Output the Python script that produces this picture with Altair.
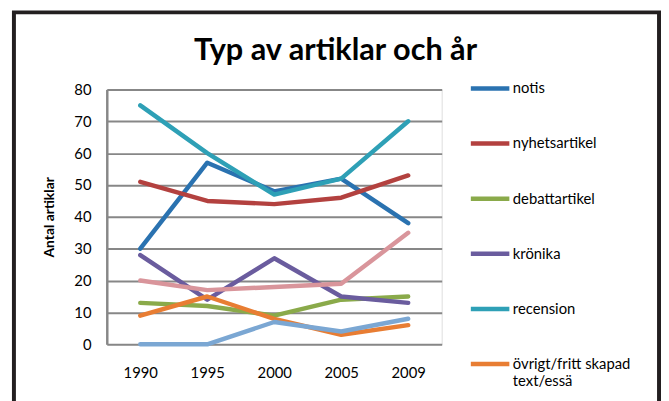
import altair as alt
import pandas as pd

years = ["1990", "1995", "2000", "2005", "2009"]
series = ["notis", "nyhetsartikel", "debattartikel", "krönika", "recension",
          "övrigt/fritt skapad text/essä", "serie 7", "serie 8"]
notis = [30, 57, 48, 52, 38]
nyhetsartikel = [51, 45, 44, 46, 53]
debattartikel = [13, 12, 9, 14, 15]
kronika = [28, 14, 27, 15, 13]
recension = [75, 60, 47, 52, 70]
ovrigt = [9, 15, 8, 3, 6]
serie7 = [20, 17, 18, 19, 35]
serie8 = [0, 0, 7, 4, 8]
colors = ["#2a72b0", "#b3413f", "#8aaa4a", "#6a5c9e", "#2ea0b6", "#e87d33", "#d9959b", "#7ba7d3"]
legend_series = series[:6]

values = [notis, nyhetsartikel, debattartikel, kronika, recension, ovrigt, serie7, serie8]
rows = []
for i, (name, vals) in enumerate(zip(series, values)):
    for y, v in zip(years, vals):
        rows.append({"år": y, "serie": name, "antal": v, "ordning": i})
df = pd.DataFrame(rows)

FONT = "Lato"

lines = alt.Chart(df).mark_line(strokeWidth=4.5, strokeCap="round", strokeJoin="round").encode(
    x=alt.X("år:O", sort=years, title=None,
            axis=alt.Axis(labelAngle=0, labelFontSize=15, labelColor="#000", labelPadding=22,
                          ticks=False, domain=False, grid=False, labelFont=FONT)),
    y=alt.Y("antal:Q", scale=alt.Scale(domain=[0, 80]), title="Antal artiklar",
            axis=alt.Axis(values=list(range(0, 81, 10)), labelFontSize=15, labelColor="#000",
                          labelPadding=16, ticks=False, domain=True, domainColor="#878787",
                          domainWidth=2.5, grid=True, gridColor="#878787", gridWidth=2,
                          titleFontSize=14, titleFontWeight="bold", titleColor="#000",
                          titlePadding=18, labelFont=FONT, titleFont=FONT)),
    color=alt.Color("serie:N", sort=series,
                    scale=alt.Scale(domain=series, range=colors),
                    legend=alt.Legend(values=legend_series, title=None, orient="none",
                                      legendX=366, legendY=-23, symbolType="stroke",
                                      symbolSize=1521, symbolStrokeWidth=4.5,
                                      labelFontSize=15, labelFont=FONT, labelColor="#000",
                                      labelOffset=1, rowPadding=24.8, labelLimit=300,
                                      labelExpr="datum.label == 'övrigt/fritt skapad text/essä' ? ['övrigt/fritt skapad', 'text/essä'] : datum.label")),
    order=alt.Order("ordning:Q"),
)

frame = alt.Chart(pd.DataFrame({"f": [1]})).mark_rect(
    filled=False, stroke="#231f20", strokeWidth=4
).encode(
    x=alt.value(-94), x2=alt.value(559), y=alt.value(-78), y2=alt.value(330)
)

chart = alt.layer(frame, lines).properties(
    width=339, height=258,
    autosize=alt.AutoSizeParams(type="none"),
    padding={"left": 100, "top": 80, "right": 222, "bottom": 55},
    title=alt.TitleParams("Typ av artiklar och år", fontSize=31, fontWeight="bold",
                          font=FONT, color="#000", anchor="middle", dx=62, offset=-57),
).configure_view(stroke=None).configure(background="white")

chart.save("out.html", embed_options={"renderer": "svg", "actions": False})
